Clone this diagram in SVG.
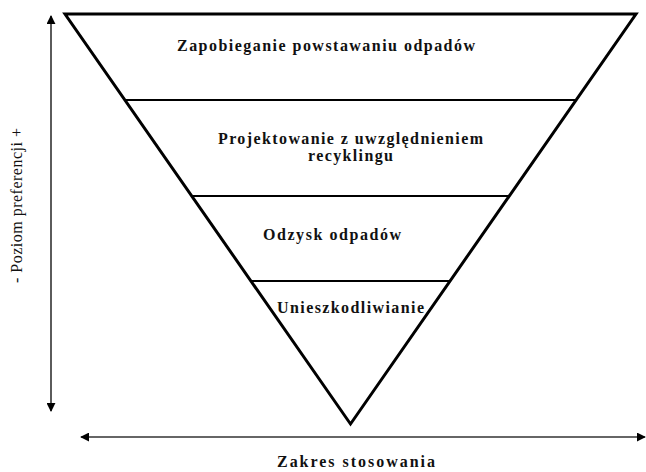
<svg xmlns="http://www.w3.org/2000/svg" width="646" height="472" viewBox="0 0 646 472">
<defs>
<style>
.lbl{font-family:"Liberation Serif","Times New Roman",serif;font-weight:bold;font-size:16px;fill:#111;}
.axis{font-family:"Liberation Serif","Times New Roman",serif;font-size:16px;fill:#111;}
.band{stroke:#000;stroke-width:2;}
.arr{stroke:#333;stroke-width:1.6;fill:none;}
</style>
<marker id="ah" viewBox="0 0 10 10" refX="9" refY="5" markerWidth="9" markerHeight="9" markerUnits="userSpaceOnUse" orient="auto-start-reverse">
<path d="M0,0 L10,5 L0,10 z" fill="#000"/>
</marker>
</defs>
<rect width="646" height="472" fill="#fff"/>
<g id="connectors">
<line class="arr" x1="51" y1="16" x2="51" y2="411" marker-start="url(#ah)" marker-end="url(#ah)"/>
<line class="arr" x1="81" y1="437" x2="645" y2="437" marker-start="url(#ah)" marker-end="url(#ah)"/>
</g>
<g id="pyramid">
<polygon points="65,14 636,14 350.5,424" fill="none" stroke="#000" stroke-width="3" stroke-linejoin="miter"/>
<line class="band" x1="125" y1="100" x2="576" y2="100"/>
<line class="band" x1="193" y1="196" x2="508" y2="196"/>
<line class="band" x1="251" y1="281" x2="450" y2="281"/>
</g>
<g id="level1"><text class="lbl" x="177" y="51" textLength="298" lengthAdjust="spacing">Zapobieganie powstawaniu odpadów</text></g>
<g id="level2">
<text class="lbl" x="218" y="144" textLength="265" lengthAdjust="spacing">Projektowanie z uwzględnieniem</text>
<text class="lbl" x="308" y="161" textLength="85" lengthAdjust="spacing">recyklingu</text>
</g>
<g id="level3"><text class="lbl" x="263" y="240" textLength="138" lengthAdjust="spacing">Odzysk odpadów</text></g>
<g id="level4"><text class="lbl" x="277" y="313" textLength="147" lengthAdjust="spacing">Unieszkodliwianie</text></g>
<g id="yaxis"><text class="axis" transform="translate(22,283) rotate(-90)" x="0" y="0" textLength="155" lengthAdjust="spacing">- Poziom preferencji +</text></g>
<g id="xaxis"><text class="lbl" x="277" y="467" textLength="158" lengthAdjust="spacing">Zakres stosowania</text></g>
</svg>
